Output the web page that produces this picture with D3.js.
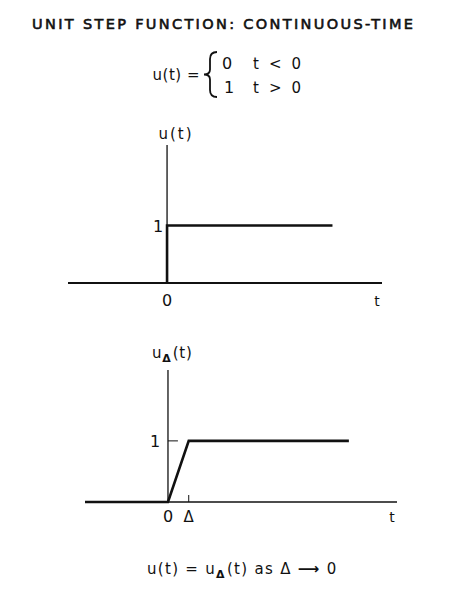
<!DOCTYPE html>
<html><head><meta charset="utf-8">
<script src="https://cdn.jsdelivr.net/npm/d3@7"></script>
<style>body{margin:0;background:#fff}svg{display:block}text{font-family:"DejaVu Sans",Verdana,sans-serif;fill:#111}</style>
</head><body>
<script>
// ---- data ----
const title = "UNIT STEP FUNCTION: CONTINUOUS-TIME";
const stepT = [0, 0, 1.67];          // u(t) path (u=0 for t<0 lies on the axis)
const stepU = [0, 1, 1];
const rampT = [-1, 0, 0.25, 2.18];   // u_delta(t) path
const rampU = [0, 0, 1, 1];
const delta = 0.25;
const xTickLabels = ["0", "Δ"];
const caption = "as";

const W = 457, H = 606;
const svg = d3.select("body").append("svg").attr("width", W).attr("height", H);

// title
svg.append("text").attr("x", 32).attr("y", 29).attr("font-size", 14.5)
  .attr("stroke", "#111").attr("stroke-width", 0.6)
  .attr("textLength", 381).attr("lengthAdjust", "spacing").text(title);

// definition
const g0 = svg.append("g").attr("font-size", 15);
g0.append("text").attr("x", 200).attr("y", 80).attr("text-anchor", "end").attr("letter-spacing", 0.5).text("u(t) =");
const bx = 210, by0 = 52, by1 = 97, bm = (by0 + by1) / 2;
g0.append("path").attr("fill", "none").attr("stroke", "#111").attr("stroke-width", 1.8)
  .attr("d", `M${bx+7},${by0} Q${bx},${by0} ${bx},${by0+7} L${bx},${bm-5} Q${bx},${bm} ${bx-6},${bm} Q${bx},${bm} ${bx},${bm+5} L${bx},${by1-7} Q${bx},${by1} ${bx+7},${by1}`);
g0.append("text").attr("x", 222).attr("y", 69).attr("font-size", 16).text("0");
g0.append("text").attr("x", 253).attr("y", 69).attr("textLength", 48).attr("lengthAdjust","spacing").text("t < 0");
g0.append("text").attr("x", 224).attr("y", 93).attr("font-size", 16).text("1");
g0.append("text").attr("x", 253).attr("y", 93).attr("textLength", 48).attr("lengthAdjust","spacing").text("t > 0");

function panel(cfg) {
  const x = d3.scaleLinear().domain(cfg.xd).range(cfg.xr);
  const y = d3.scaleLinear().domain(cfg.yd).range(cfg.yr);
  const g = svg.append("g");
  g.append("line").attr("x1", x(cfg.xd[0])).attr("x2", x(cfg.xd[1])).attr("y1", y(0)).attr("y2", y(0))
    .attr("stroke", "#111").attr("stroke-width", cfg.axW);
  g.append("line").attr("x1", x(0)).attr("x2", x(0)).attr("y1", y(0)).attr("y2", y(cfg.yd[1]))
    .attr("stroke", "#111").attr("stroke-width", 1.3);
  const line = d3.line().x(d => x(d[0])).y(d => y(d[1]));
  g.append("path").attr("d", line(d3.zip(cfg.t, cfg.u))).attr("fill", "none")
    .attr("stroke", "#111").attr("stroke-width", 2.6).attr("stroke-linejoin", "miter");
  g.append("text").attr("x", x(0) - cfg.oneDx).attr("y", y(1) + 6).attr("font-size", 16).attr("text-anchor", "middle").text("1");
  g.append("text").attr("x", x(0)).attr("y", y(0) + cfg.labDy).attr("font-size", 16).attr("text-anchor", "middle").text(xTickLabels[0]);
  g.append("text").attr("x", x(cfg.xd[1]) - 5).attr("y", y(0) + cfg.labDy).attr("font-size", 14).attr("text-anchor", "middle").text("t");
  return {x, y, g};
}

const p1 = panel({xd: [-1, 2.17], xr: [68, 382], yd: [0, 2.4], yr: [283, 145], t: stepT, u: stepU, oneDx: 9, axW: 1.8, labDy: 23});
p1.g.append("text").attr("x", p1.x(0) + 8).attr("y", 139).attr("font-size", 15).attr("text-anchor", "middle")
  .attr("textLength", 33).attr("lengthAdjust","spacing").text("u(t)");

const p2 = panel({xd: [-1, 2.76], xr: [85, 397], yd: [0, 2.16], yr: [502, 370], t: rampT, u: rampU, oneDx: 13, axW: 1.4, labDy: 20});
p2.g.append("line").attr("x1", p2.x(0)).attr("x2", p2.x(0.12)).attr("y1", p2.y(1)).attr("y2", p2.y(1)).attr("stroke", "#111").attr("stroke-width", 1);
p2.g.append("line").attr("x1", p2.x(delta)).attr("x2", p2.x(delta)).attr("y1", p2.y(0)).attr("y2", p2.y(0) - 7).attr("stroke", "#111").attr("stroke-width", 1);
p2.g.append("text").attr("x", p2.x(delta)).attr("y", p2.y(0) + 20).attr("font-size", 15).attr("text-anchor", "middle").text(xTickLabels[1]);
const lab = p2.g.append("text").attr("x", 152).attr("y", 358).attr("font-size", 15).attr("letter-spacing", 0.8);
lab.append("tspan").text("u");
lab.append("tspan").attr("font-size", 11).attr("dy", 4).attr("font-weight","bold").text("Δ");
lab.append("tspan").attr("dy", -4).attr("dx", 1).text("(t)");

// caption
const c = svg.append("text").attr("x", 147).attr("y", 574).attr("font-size", 15).attr("letter-spacing", 1.3);
c.append("tspan").text("u(t) = u");
c.append("tspan").attr("font-size", 11).attr("dy", 4).attr("font-weight","bold").text("Δ");
c.append("tspan").attr("dy", -4).attr("dx", 1).text("(t)  " + caption + "  Δ ");
c.append("tspan").attr("font-weight","bold").text("⟶");
c.append("tspan").text(" 0");
</script>
</body></html>
